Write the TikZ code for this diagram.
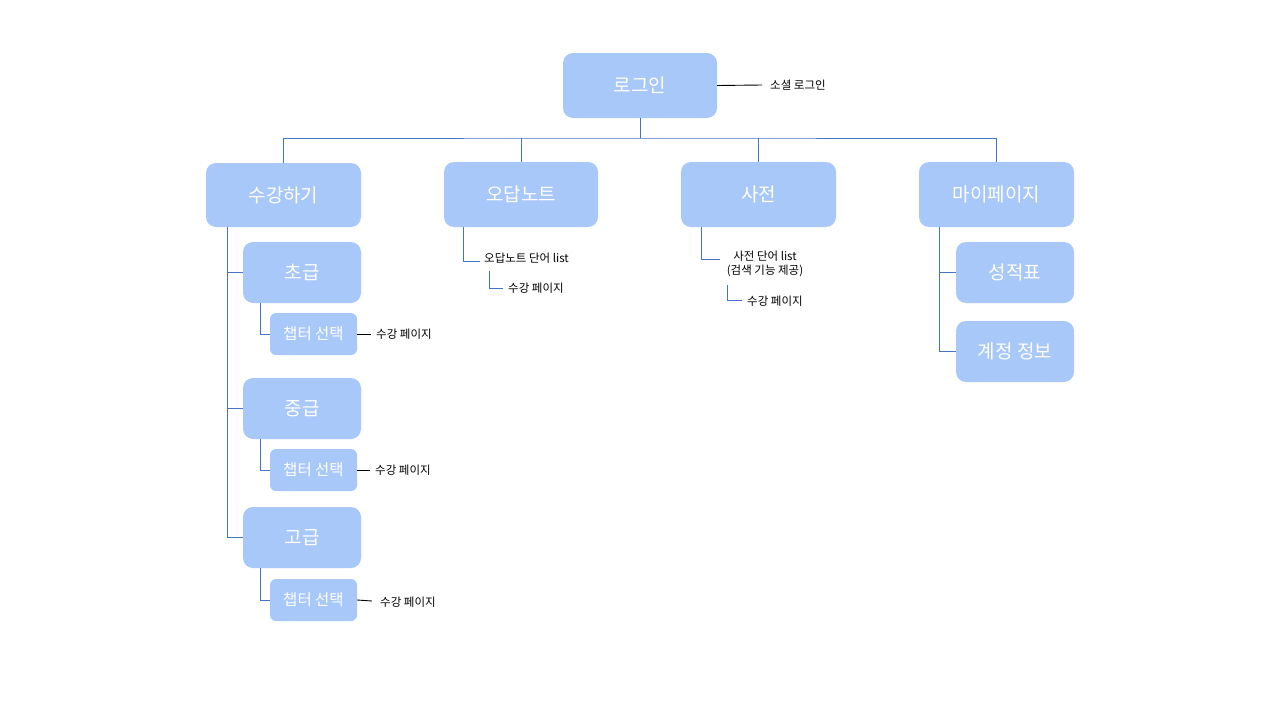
\documentclass[tikz,border=0pt]{standalone}
\usepackage{fontspec}
\setmainfont{Noto Sans CJK KR}
\definecolor{boxfill}{RGB}{168,200,250}
\definecolor{linkblue}{RGB}{68,114,196}
\tikzset{
  bigbox/.style={draw=none,fill=boxfill,rounded corners=10pt,text=white,font=\fontsize{19}{22}\selectfont,inner sep=0pt},
  smallbox/.style={draw=none,fill=boxfill,rounded corners=6pt,text=white,font=\fontsize{15.5}{18}\selectfont,inner sep=0pt},
  note/.style={font=\fontsize{11.5}{14}\selectfont,text=black,inner sep=0pt,align=center},
  link/.style={draw=linkblue,line width=0.9pt},
  blink/.style={draw=black,line width=0.9pt}
}
\begin{document}
\begin{tikzpicture}[x=1pt,y=-1pt]
\useasboundingbox (0,0) rectangle (1280,720);
\fill[white] (0,0) rectangle (1280,720);
% boxes
\node[bigbox,minimum width=154pt,minimum height=65pt] (login) at (640,85.5) {로그인};
\node[bigbox,minimum width=155pt,minimum height=64pt] (learn) at (283.5,195) {수강하기};
\node[bigbox,minimum width=154pt,minimum height=65pt] (wrong) at (521,194.5) {오답노트};
\node[bigbox,minimum width=155pt,minimum height=65pt] (dict) at (758.5,194.5) {사전};
\node[bigbox,minimum width=155pt,minimum height=65pt] (my) at (996.5,194.5) {마이페이지};
\node[bigbox,minimum width=118pt,minimum height=61pt] (beg) at (302,272.5) {초급};
\node[bigbox,minimum width=118pt,minimum height=61pt] (mid) at (302,408.5) {중급};
\node[bigbox,minimum width=118pt,minimum height=61pt] (adv) at (302,537.5) {고급};
\node[smallbox,minimum width=87pt,minimum height=42pt] (ch1) at (313.5,334) {챕터 선택};
\node[smallbox,minimum width=87pt,minimum height=42pt] (ch2) at (313.5,470) {챕터 선택};
\node[smallbox,minimum width=87pt,minimum height=42pt] (ch3) at (313.5,600) {챕터 선택};
\node[bigbox,minimum width=118pt,minimum height=61pt] (grade) at (1015,272.5) {성적표};
\node[bigbox,minimum width=118pt,minimum height=61pt] (acct) at (1015,351.5) {계정 정보};
% notes
\node[note,anchor=west] (social) at (770,85) {소셜 로그인};
\node[note,anchor=west] (p1) at (376,334) {수강 페이지};
\node[note,anchor=west] (p2) at (375,470) {수강 페이지};
\node[note,anchor=west] (p3) at (380,602) {수강 페이지};
\node[note,anchor=west] (wlist) at (484,258.5) {오답노트 단어 list};
\node[note,anchor=west] (wpage) at (508,288) {수강 페이지};
\node[note] (dlist) at (765,264) {사전 단어 list\\(검색 기능 제공)};
\node[note,anchor=west] (dpage) at (747,301) {수강 페이지};
% coordinates
\coordinate (bus) at (640,138);
% top tree
\draw[link] (login.south) -- (bus);
\draw[link] (learn.north) |- (bus) -| (my.north);
\draw[link] (wrong.north) -- (wrong.north |- bus);
\draw[link] (dict.north) -- (dict.north |- bus);
% login note
\draw[blink] (login.east) -- (762,85);
% learn subtree
\draw[link] (227,227) |- (beg.west);
\draw[link] (227,227) |- (mid.west);
\draw[link] (227,227) |- (adv.west);
\draw[link] (260,303) |- (ch1.west);
\draw[link] (260,439) |- (ch2.west);
\draw[link] (260,568) |- (ch3.west);
\draw[blink] (ch1.east) -- (371,334);
\draw[blink] (ch2.east) -- (370,470);
\draw[blink] (ch3.east) -- (372,601);
% wrong subtree
\draw[link] (463,227) |- (480,261);
\draw[link] (489,271) |- (503,288);
% dict subtree
\draw[link] (701,227) |- (720,259);
\draw[link] (727,285) |- (742,300);
% my subtree
\draw[link] (939,227) |- (grade.west);
\draw[link] (939,227) |- (acct.west);
\end{tikzpicture}
\end{document}
